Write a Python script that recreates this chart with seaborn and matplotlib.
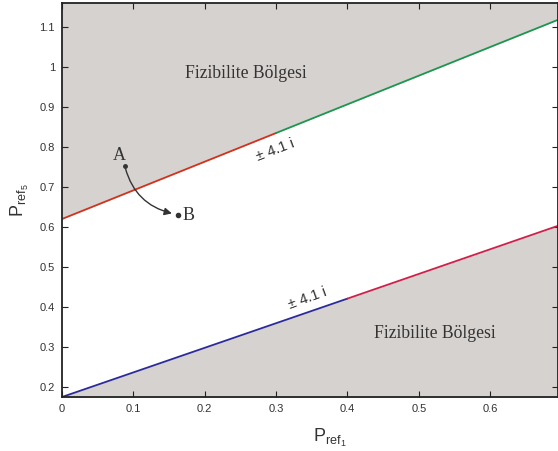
import matplotlib
matplotlib.use("Agg")
import matplotlib.pyplot as plt
import seaborn as sns
import pandas as pd

# Data
upper_x1 = [0.0, 0.3]
upper_y1 = [0.62, 0.835]
upper_x2 = [0.3, 0.695]
upper_y2 = [0.835, 1.118]
lower_x1 = [0.0, 0.4]
lower_y1 = [0.175, 0.421]
lower_x2 = [0.4, 0.695]
lower_y2 = [0.421, 0.603]
point_A = (0.088, 0.7525)
point_B = (0.162, 0.63)
region_label = "Fizibilite Bölgesi"
line_label = "± 4.1 i"
x_ticks = [0, 0.1, 0.2, 0.3, 0.4, 0.5, 0.6]
y_ticks = [0.2, 0.3, 0.4, 0.5, 0.6, 0.7, 0.8, 0.9, 1, 1.1]

sns.set_theme(style="white")
plt.rcParams['font.family'] = ['Liberation Sans', 'DejaVu Sans']

fig = plt.figure(figsize=(5.58, 4.51), dpi=100)
ax = fig.add_axes([62/558, 54/451, 1 - 62/558, (397-3)/451])

xmin, xmax = 0.0, 0.695
ymin, ymax = 0.175, 1.16
gray = '#d6d2cf'

ux = upper_x1 + upper_x2[1:]
uy = upper_y1 + upper_y2[1:]
lx = lower_x1 + lower_x2[1:]
ly = lower_y1 + lower_y2[1:]
ax.fill_between(ux, uy, [ymax + 0.1] * len(ux), color=gray, lw=0, zorder=0)
ax.fill_between(lx, [ymin - 0.1] * len(lx), ly, color=gray, lw=0, zorder=0)

sns.lineplot(x=upper_x1, y=upper_y1, ax=ax, color='#d2321e', lw=1.3)
sns.lineplot(x=upper_x2, y=upper_y2, ax=ax, color='#1e9650', lw=1.3)
sns.lineplot(x=lower_x1, y=lower_y1, ax=ax, color='#2a2a9c', lw=1.3)
sns.lineplot(x=lower_x2, y=lower_y2, ax=ax, color='#d0204a', lw=1.3)

ax.set_xlim(xmin, xmax)
ax.set_ylim(ymin, ymax)
ax.set_xticks(x_ticks)
ax.set_xticklabels(['0', '0.1', '0.2', '0.3', '0.4', '0.5', '0.6'])
ax.set_yticks(y_ticks)
ax.set_yticklabels(['0.2', '0.3', '0.4', '0.5', '0.6', '0.7', '0.8', '0.9', '1', '1.1'])
ax.tick_params(direction='in', length=4, width=0.8, colors='#222222', labelsize=8,
               top=True, right=True, bottom=True, left=True, pad=5)
for lbl in ax.get_xticklabels() + ax.get_yticklabels():
    lbl.set_color('#333333')
for s in ax.spines.values():
    s.set_color('#222222')
    s.set_linewidth(1.3)

ax.set_xlabel(r'$\mathregular{P_{ref_1}}$', fontsize=13, color='#333333')
ax.xaxis.set_label_coords((330 - 62) / 496, -0.075)
ax.set_ylabel(r'$\mathregular{P_{ref_5}}$', fontsize=13, color='#333333', labelpad=6)

ax.text(0.258, 0.9825, region_label, family=['Liberation Serif'], fontsize=12.7,
        color='#333333', ha='center', va='center')
ax.text(0.522, 0.335, region_label, family=['Liberation Serif'], fontsize=12.7,
        color='#333333', ha='center', va='center')
ax.text(0.299, 0.7935, line_label, fontsize=10.5, color='#333333', rotation=21,
        ha='center', va='center', family=['Liberation Sans'])
ax.text(0.344, 0.4225, line_label, fontsize=10.5, color='#333333', rotation=20,
        ha='center', va='center', family=['Liberation Sans'])

ax.plot(*point_A, 'o', color='#333333', ms=2.5)
ax.plot(*point_B, 'o', color='#333333', ms=3)
ax.text(0.08, 0.7775, 'A', family=['Liberation Serif'],
        fontsize=13, color='#333333', ha='center', va='center')
ax.text(0.1775, 0.6275, 'B', family=['Liberation Serif'],
        fontsize=13, color='#333333', ha='center', va='center')
ax.annotate('', xy=(0.154, 0.634), xytext=point_A,
            arrowprops=dict(arrowstyle='-|>', color='#333333', lw=1,
                            connectionstyle='arc3,rad=0.3', mutation_scale=11,
                            shrinkA=2, shrinkB=0))

fig.savefig('out.png', dpi=100)
